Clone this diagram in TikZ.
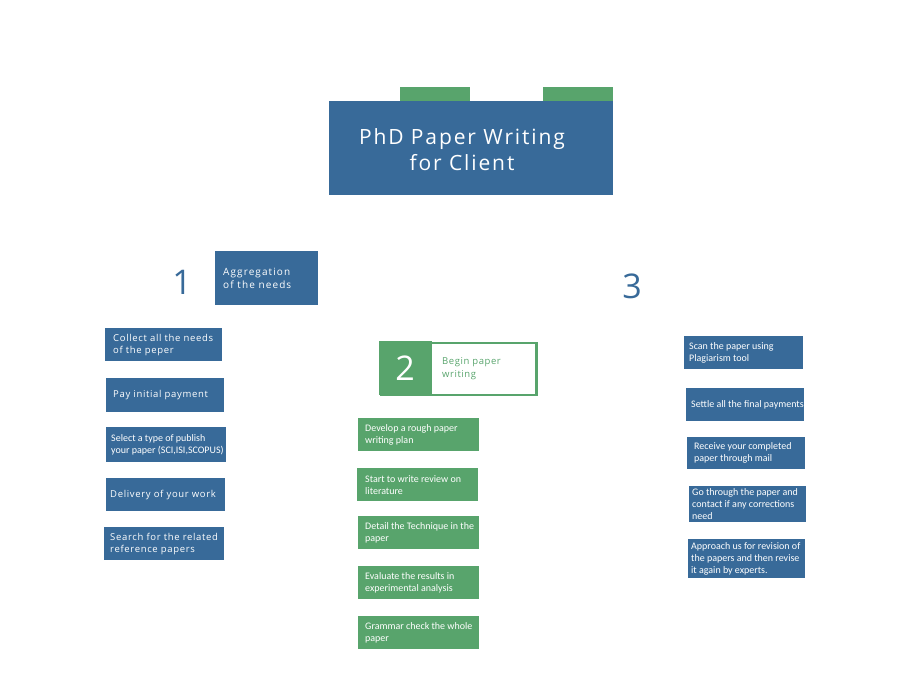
\documentclass[tikz,border=0pt]{standalone}
\usepackage{fontspec}
\setmainfont{Open Sans}
\newfontfamily\wide[LetterSpace=7]{Open Sans}
\newfontfamily\slight[LetterSpace=6]{Open Sans}
\newfontfamily\wider[LetterSpace=9]{Open Sans}
\newfontfamily\widest[LetterSpace=11]{Open Sans}
\newfontfamily\narrow{Carlito}
\definecolor{blueC}{RGB}{56,106,153}
\definecolor{greenC}{RGB}{88,164,108}
\tikzset{
  every node/.style={inner sep=0pt},
  spacedtxt/.style={font=\wide\fontsize{9.5}{12}\selectfont},
  plaintxt/.style={font=\narrow\fontsize{10}{12}\selectfont},
  bignum/.style={font=\fontsize{34}{34}\selectfont}
}
% a filled card: name, top-left corner, width, height, left padding, fill, font style, text
\newcommand{\card}[8]{%
  \node[fill=#6, minimum width=#3pt, minimum height=#4pt, anchor=north west] (#1) at (#2) {};
  \node[#7, text=white, anchor=west, align=left] (#1-text) at ([xshift=#5pt]#1.west) {#8};
}
\begin{document}
\begin{tikzpicture}[x=1pt,y=-1pt]
\useasboundingbox (0,0) rectangle (900,700);

% title block with two tabs
\fill[greenC] (400,87) rectangle (470,101);
\fill[greenC] (543,87) rectangle (613,101);
\node[fill=blueC, anchor=north west, minimum width=284pt, minimum height=94pt] (title) at (329,101) {};
\node[text=white, align=center, font=\wider\fontsize{21}{26}\selectfont] (titletxt) at (462,150) {PhD Paper Writing\\for Client};

% stage 1
\node[bignum, text=blueC] (n1) at (182,282) {1};
\node[fill=blueC, minimum width=103pt, minimum height=54pt, anchor=north west] (s1) at (215,251) {};
\node[text=white, anchor=west, align=left, font=\widest\fontsize{10}{13}\selectfont] (s1-text) at ([xshift=8pt]s1.west) {Aggregation\\of the needs};

\card{a1}{105,328}{117}{33}{8}{blueC}{spacedtxt}{Collect all the needs\\of the peper}
\card{a2}{106,378}{118}{34}{7}{blueC}{spacedtxt}{Pay initial payment}
\card{a3}{106,427}{120}{35}{5}{blueC}{plaintxt}{Select a type of publish\\your paper (SCI,ISI,SCOPUS)}
\card{a4}{106,478}{119}{33}{4}{blueC}{spacedtxt}{Delivery of your work}
\card{a5}{104,527}{120}{33}{6}{blueC}{spacedtxt}{Search for the related\\reference papers}

% stage 2
\node[draw=greenC, line width=2.5pt, anchor=north west, minimum width=155pt, minimum height=52pt] (s2) at (380,342) {};
\fill[greenC] (379,341) rectangle (432,395);
\node[bignum, text=white] (n2) at (405,368) {2};
\node[anchor=west, align=left, text=greenC, font=\slight\fontsize{9.5}{13}\selectfont] (s2txt) at (442,369) {Begin paper\\writing};

\card{b1}{358,418}{121}{33}{7}{greenC}{plaintxt}{Develop a rough paper\\writing plan}
\card{b2}{357,468}{121}{33}{8}{greenC}{plaintxt}{Start to write review on\\literature}
\card{b3}{358,516}{121}{33}{7}{greenC}{plaintxt}{Detail the Technique in the\\paper}
\card{b4}{358,566}{121}{33}{7}{greenC}{plaintxt}{Evaluate the results in\\experimental analysis}
\card{b5}{358,616}{121}{33}{7}{greenC}{plaintxt}{Grammar check the whole\\paper}

% stage 3
\node[bignum, text=blueC] (n3) at (632,286) {3};

\card{c1}{684,336}{119}{33}{5}{blueC}{plaintxt}{Scan the paper using\\Plagiarism tool}
\card{c2}{686,388}{118}{33}{5}{blueC}{plaintxt}{Settle all the final payments}
\card{c3}{687,437}{118}{32}{7}{blueC}{plaintxt}{Receive your completed\\paper through mail}
\card{c4}{689,486}{117}{36}{3}{blueC}{plaintxt}{Go through the paper and\\contact if any corrections\\need}
\card{c5}{688,539}{117}{39}{3}{blueC}{plaintxt}{Approach us for revision of\\the papers and then revise\\it again by experts.}
\end{tikzpicture}
\end{document}
